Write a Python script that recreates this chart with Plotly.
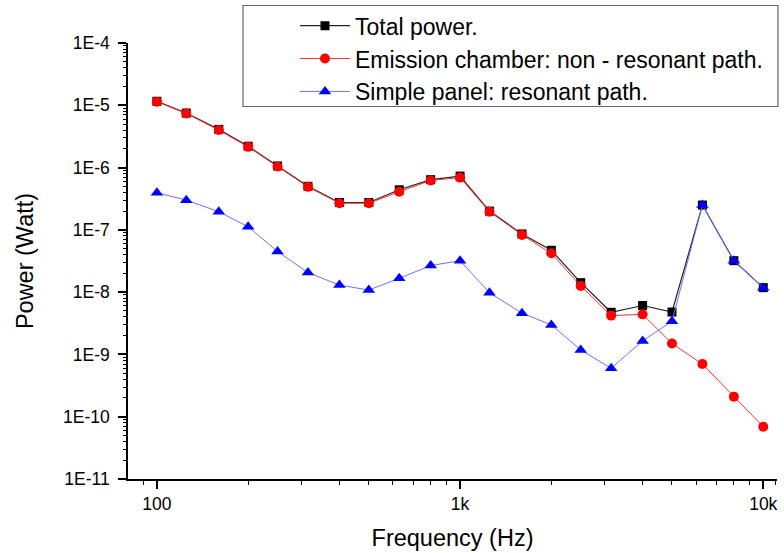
import plotly.graph_objects as go
import numpy as np

freq = [100, 125, 160, 200, 250, 315, 400, 500, 630, 800, 1000, 1250, 1600,
        2000, 2500, 3150, 4000, 5000, 6300, 8000, 10000]
total_power = [1.16e-5, 7.5e-6, 4.1e-6, 2.2e-6, 1.06e-6, 5.0e-7, 2.75e-7, 2.75e-7,
               4.4e-7, 6.4e-7, 7.3e-7, 2.0e-7, 8.6e-8, 4.7e-8, 1.42e-8, 4.75e-9,
               6.1e-9, 4.8e-9, 2.5e-7, 3.2e-8, 1.18e-8]
emission = [1.14e-5, 7.4e-6, 4.0e-6, 2.15e-6, 1.04e-6, 4.9e-7, 2.67e-7, 2.67e-7,
            4.1e-7, 6.2e-7, 6.9e-7, 1.96e-7, 8.3e-8, 4.2e-8, 1.26e-8, 4.2e-9,
            4.4e-9, 1.5e-9, 7.0e-10, 2.1e-10, 6.9e-11]
panel = [3.95e-7, 3.0e-7, 1.96e-7, 1.12e-7, 4.5e-8, 2.06e-8, 1.3e-8, 1.08e-8,
         1.67e-8, 2.67e-8, 3.2e-8, 9.8e-9, 4.6e-9, 2.98e-9, 1.18e-9, 6.0e-10,
         1.65e-9, 3.4e-9, 2.5e-7, 3.2e-8, 1.18e-8]

x_tickvals = [100, 1000, 10000]
x_ticktext = ["100", "1k", "10k"]
x_minor = [90, 200, 300, 400, 500, 600, 700, 800, 900,
           2000, 3000, 4000, 5000, 6000, 7000, 8000, 9000, 11000]
y_tickvals = [1e-4, 1e-5, 1e-6, 1e-7, 1e-8, 1e-9, 1e-10, 1e-11]
y_ticktext = ["1E-4", "1E-5", "1E-6", "1E-7", "1E-8", "1E-9", "1E-10", "1E-11"]
y_minor = [m * 10.0 ** e for e in range(-11, -4) for m in range(2, 10)]

FONT = "Liberation Sans, Arial, sans-serif"
XR = [np.log10(80.3), np.log10(11100)]
YR = [-11, -4]

fig = go.Figure()
fig.add_trace(go.Scatter(
    x=freq, y=total_power, mode="lines+markers", name="Total power.",
    line=dict(color="#222222", width=1.2),
    marker=dict(symbol="square", size=9, color="#000000")))
fig.add_trace(go.Scatter(
    x=freq, y=emission, mode="lines+markers",
    name="Emission chamber: non - resonant path.",
    line=dict(color="#ff3030", width=1),
    marker=dict(symbol="circle", size=10, color="#ff0000")))
fig.add_trace(go.Scatter(
    x=freq, y=panel, mode="lines+markers", name="Simple panel: resonant path.",
    line=dict(color="#7070ff", width=1),
    marker=dict(symbol="triangle-up", size=11, color="#0000ff")))
# invisible helper trace so the minor-tick overlay axes are drawn
fig.add_trace(go.Scatter(
    x=freq, y=panel, xaxis="x2", yaxis="y2", mode="markers",
    marker=dict(opacity=0), showlegend=False, hoverinfo="skip"))

# legend frame (paper coordinates)
fig.add_shape(type="rect", xref="paper", yref="paper",
              x0=0.1772, x1=1.0015, y0=0.8544, y1=1.086,
              line=dict(color="#666666", width=1.2), fillcolor="white",
              layer="above")

fig.update_layout(
    width=784, height=553,
    margin=dict(l=128, r=7, t=43, b=74, autoexpand=False),
    paper_bgcolor="white", plot_bgcolor="white",
    font=dict(family=FONT, color="#000000", size=17.5),
    showlegend=True,
    legend=dict(
        x=0.2573, y=1.089, xanchor="left", yanchor="top",
        bgcolor="rgba(0,0,0,0)", borderwidth=0,
        font=dict(family=FONT, size=23, color="#000000"),
        traceorder="normal", itemwidth=50,
    ),
    xaxis=dict(
        type="log", range=XR, automargin=False,
        tickvals=x_tickvals, ticktext=x_ticktext,
        ticks="outside", ticklen=8, tickwidth=1.5, tickcolor="#000000",
        ticklabelstandoff=0,
        showline=True, linecolor="#000000", linewidth=1.5,
        showgrid=False, zeroline=False,
        tickfont=dict(size=17.5),
        title=dict(text="Frequency (Hz)", font=dict(size=23.5), standoff=17),
    ),
    yaxis=dict(
        type="log", range=YR, automargin=False,
        tickvals=y_tickvals, ticktext=y_ticktext,
        ticks="outside", ticklen=8, tickwidth=1.5, tickcolor="#000000",
        ticklabelstandoff=5,
        showline=True, linecolor="#000000", linewidth=1.5,
        showgrid=False, zeroline=False,
        tickfont=dict(size=17.5),
        title=dict(text="Power (Watt)", font=dict(size=23.5), standoff=23),
    ),
    xaxis2=dict(
        type="log", range=XR, overlaying="x", anchor="y2", side="bottom",
        tickvals=x_minor, ticks="outside", ticklen=4.5, tickwidth=1,
        tickcolor="#000000", showticklabels=False, showline=False,
        showgrid=False, zeroline=False, automargin=False,
    ),
    yaxis2=dict(
        type="log", range=YR, overlaying="y", anchor="x2", side="left",
        tickvals=y_minor, ticks="outside", ticklen=4.5, tickwidth=1,
        tickcolor="#000000", showticklabels=False, showline=False,
        showgrid=False, zeroline=False, automargin=False,
    ),
)

# remove the browser's default 8 px page margin so the figure sits at (0, 0)
fig.write_html(
    "out.html",
    config={"displayModeBar": False},
    post_script="document.body.style.margin='0';"
                "document.body.style.overflow='hidden';",
)
